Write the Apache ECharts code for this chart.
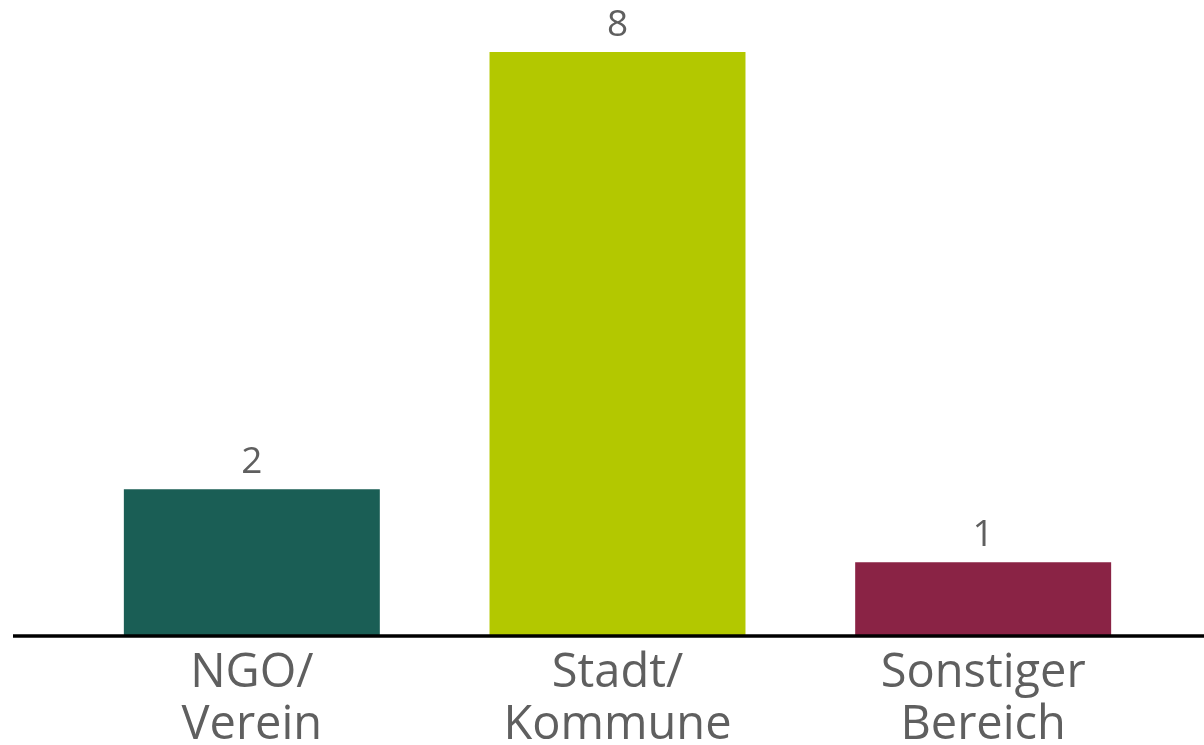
<!DOCTYPE html>
<html><head><meta charset="utf-8">
<script src="https://cdn.jsdelivr.net/npm/echarts@6/dist/echarts.min.js"></script>
<style>html,body{margin:0;padding:0;background:#fff}#c{width:1204px;height:745px}</style>
</head><body><div id="c"></div>
<script>
const categories = ['NGO/\nVerein', 'Stadt/\nKommune', 'Sonstiger\nBereich'];
const values = [2, 8, 1];
const colors = ['#1a5e55', '#b3c800', '#8a2345'];

const chart = echarts.init(document.getElementById('c'));
chart.setOption({
  animation: false,
  grid: { left: 69, right: 38, top: 52, bottom: 110, outerBoundsMode: 'none', containLabel: false },
  xAxis: {
    type: 'category',
    data: categories,
    axisLine: { show: false },
    axisTick: { show: false },
    axisLabel: { color: '#5f5f5f', fontFamily: 'Open Sans', fontSize: 47, lineHeight: 52, margin: 13 }
  },
  yAxis: { type: 'value', min: 0, max: 8, show: false, splitLine: { show: false } },
  series: [{
    type: 'bar',
    barWidth: '70%',
    data: values.map((v, i) => ({ value: v, itemStyle: { color: colors[i] } })),
    label: { show: true, position: 'top', distance: 8, color: '#5f5f5f', fontFamily: 'Open Sans', fontSize: 37 }
  }],
  graphic: [{
    type: 'line', shape: { x1: 13, y1: 636, x2: 1204, y2: 636 },
    style: { stroke: '#000', lineWidth: 3.5 }, z: 10
  }]
});
</script></body></html>
